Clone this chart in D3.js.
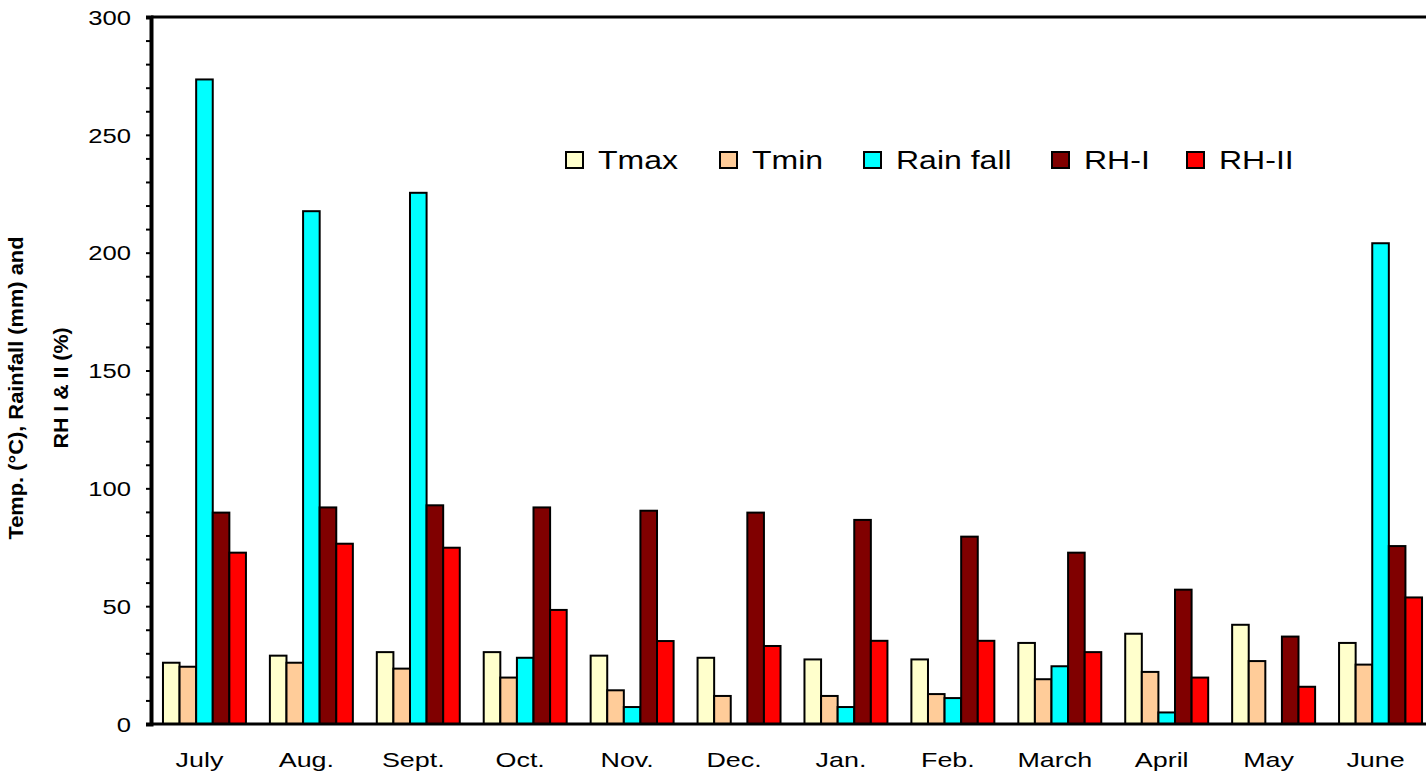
<!DOCTYPE html>
<html>
<head>
<meta charset="utf-8">
<script src="https://cdn.jsdelivr.net/npm/d3@7"></script>
<style>
  body { margin: 0; background: #fff; }
  text { font-family: Arial, "Liberation Sans", sans-serif; fill: #000; }
</style>
</head>
<body>
<div class="vis-barchart"></div>
<script>
const months = ["July", "Aug.", "Sept.", "Oct.", "Nov.", "Dec.", "Jan.", "Feb.", "March", "April", "May", "June"];
const seriesNames = ["Tmax", "Tmin", "Rain fall", "RH-I", "RH-II"];
const tmax = [26.0, 29.0, 30.5, 30.5, 29.0, 28.1, 27.4, 27.4, 34.4, 38.3, 42.1, 34.4];
const tmin = [24.3, 26.0, 23.5, 19.7, 14.3, 11.9, 11.9, 12.7, 19.0, 22.1, 26.7, 25.2];
const rainfall = [273.5, 217.6, 225.4, 28.1, 7.2, 0, 7.2, 11.0, 24.5, 4.9, 0, 204.0];
const rh1 = [89.7, 91.9, 92.8, 91.9, 90.5, 89.7, 86.6, 79.5, 72.7, 57.0, 37.1, 75.5];
const rh2 = [72.7, 76.5, 74.8, 48.4, 35.2, 33.1, 35.3, 35.3, 30.5, 19.7, 15.8, 53.7];
const yMajorTicks = [0, 50, 100, 150, 200, 250, 300];

const colors = ["#ffffcc", "#ffcc99", "#00ffff", "#800000", "#ff0000"];
const seriesValues = [tmax, tmin, rainfall, rh1, rh2];

const W = 1426, H = 778;
const margin = { left: 151, right: 1434, top: 17, bottom: 724 };
const stretch = 1.28; // the original picture is stretched horizontally

const svg = d3.select(".vis-barchart").append("svg")
  .attr("width", W).attr("height", H);

const x = d3.scaleBand().domain(months).range([margin.left, margin.right])
  .paddingInner(0.224).paddingOuter(0.112);
const xs = d3.scaleBand().domain(seriesNames).range([0, x.bandwidth()]);
const y = d3.scaleLinear().domain([0, 300]).range([margin.bottom, margin.top]);

// widen horizontal text like the source image
const widen = (sel) => sel.each(function () {
  const len = this.getComputedTextLength();
  d3.select(this).attr("textLength", len * stretch).attr("lengthAdjust", "spacingAndGlyphs");
});

// bars
const groups = svg.append("g").selectAll("g")
  .data(months).enter().append("g")
  .attr("transform", d => "translate(" + x(d) + ",0)");

groups.selectAll("rect")
  .data((m, i) => seriesNames.map((s, j) => ({ s: s, j: j, v: seriesValues[j][i] })))
  .enter().append("rect")
  .filter(d => d.v > 0)
  .attr("x", d => xs(d.s))
  .attr("y", d => y(d.v))
  .attr("width", xs.bandwidth())
  .attr("height", d => y(0) - y(d.v))
  .attr("fill", d => colors[d.j])
  .attr("stroke", "#000")
  .attr("stroke-width", 2);

// top border
svg.append("line")
  .attr("x1", margin.left).attr("x2", W)
  .attr("y1", margin.top).attr("y2", margin.top)
  .attr("stroke", "#000").attr("stroke-width", 3);

// x axis line
svg.append("line")
  .attr("x1", margin.left).attr("x2", W)
  .attr("y1", margin.bottom).attr("y2", margin.bottom)
  .attr("stroke", "#000").attr("stroke-width", 3);

// y axis
const yAxis = svg.append("g")
  .attr("transform", "translate(" + margin.left + ",0)")
  .call(d3.axisLeft(y)
    .tickValues(d3.range(0, 301, 10))
    .tickFormat(d => yMajorTicks.includes(d) ? d : "")
    .tickSize(5)
    .tickPadding(15));
yAxis.select(".domain").attr("stroke", "#000").attr("stroke-width", 4);
yAxis.selectAll(".tick line").attr("stroke", "#000").attr("stroke-width", 2);
yAxis.selectAll(".tick text")
  .style("font-family", "Arial, 'Liberation Sans', sans-serif")
  .attr("font-size", 20)
  .attr("fill", "#000")
  .attr("dy", "0.36em")
  .call(widen);

// x labels
svg.append("g").selectAll("text")
  .data(months).enter().append("text")
  .attr("x", d => x(d) + x.bandwidth() / 2 - 5)
  .attr("y", 767)
  .attr("text-anchor", "middle")
  .attr("font-size", 21)
  .text(d => d)
  .call(widen);

// y title
const yTitle = svg.append("g").attr("transform", "translate(0,388)");
yTitle.append("text")
  .attr("transform", "translate(23,0) rotate(-90)")
  .attr("text-anchor", "middle")
  .attr("font-size", 21)
  .attr("font-weight", "bold")
  .attr("textLength", 303).attr("lengthAdjust", "spacingAndGlyphs")
  .text("Temp. (°C), Rainfall (mm) and");
yTitle.append("text")
  .attr("transform", "translate(68,0) rotate(-90)")
  .attr("text-anchor", "middle")
  .attr("font-size", 21)
  .attr("font-weight", "bold")
  .attr("textLength", 121).attr("lengthAdjust", "spacingAndGlyphs")
  .text("RH I & II (%)");

// legend
const legendX = [565, 719, 863, 1051, 1186];
const legend = svg.append("g").selectAll("g")
  .data(seriesNames).enter().append("g")
  .attr("transform", (d, i) => "translate(" + legendX[i] + ",151)");
legend.append("rect")
  .attr("x", 1).attr("y", 1)
  .attr("width", 17).attr("height", 16)
  .attr("fill", (d, i) => colors[i])
  .attr("stroke", "#000").attr("stroke-width", 2);
legend.append("text")
  .attr("x", 33).attr("y", 18)
  .attr("font-size", 25)
  .text(d => d)
  .call(widen);
</script>
</body>
</html>
